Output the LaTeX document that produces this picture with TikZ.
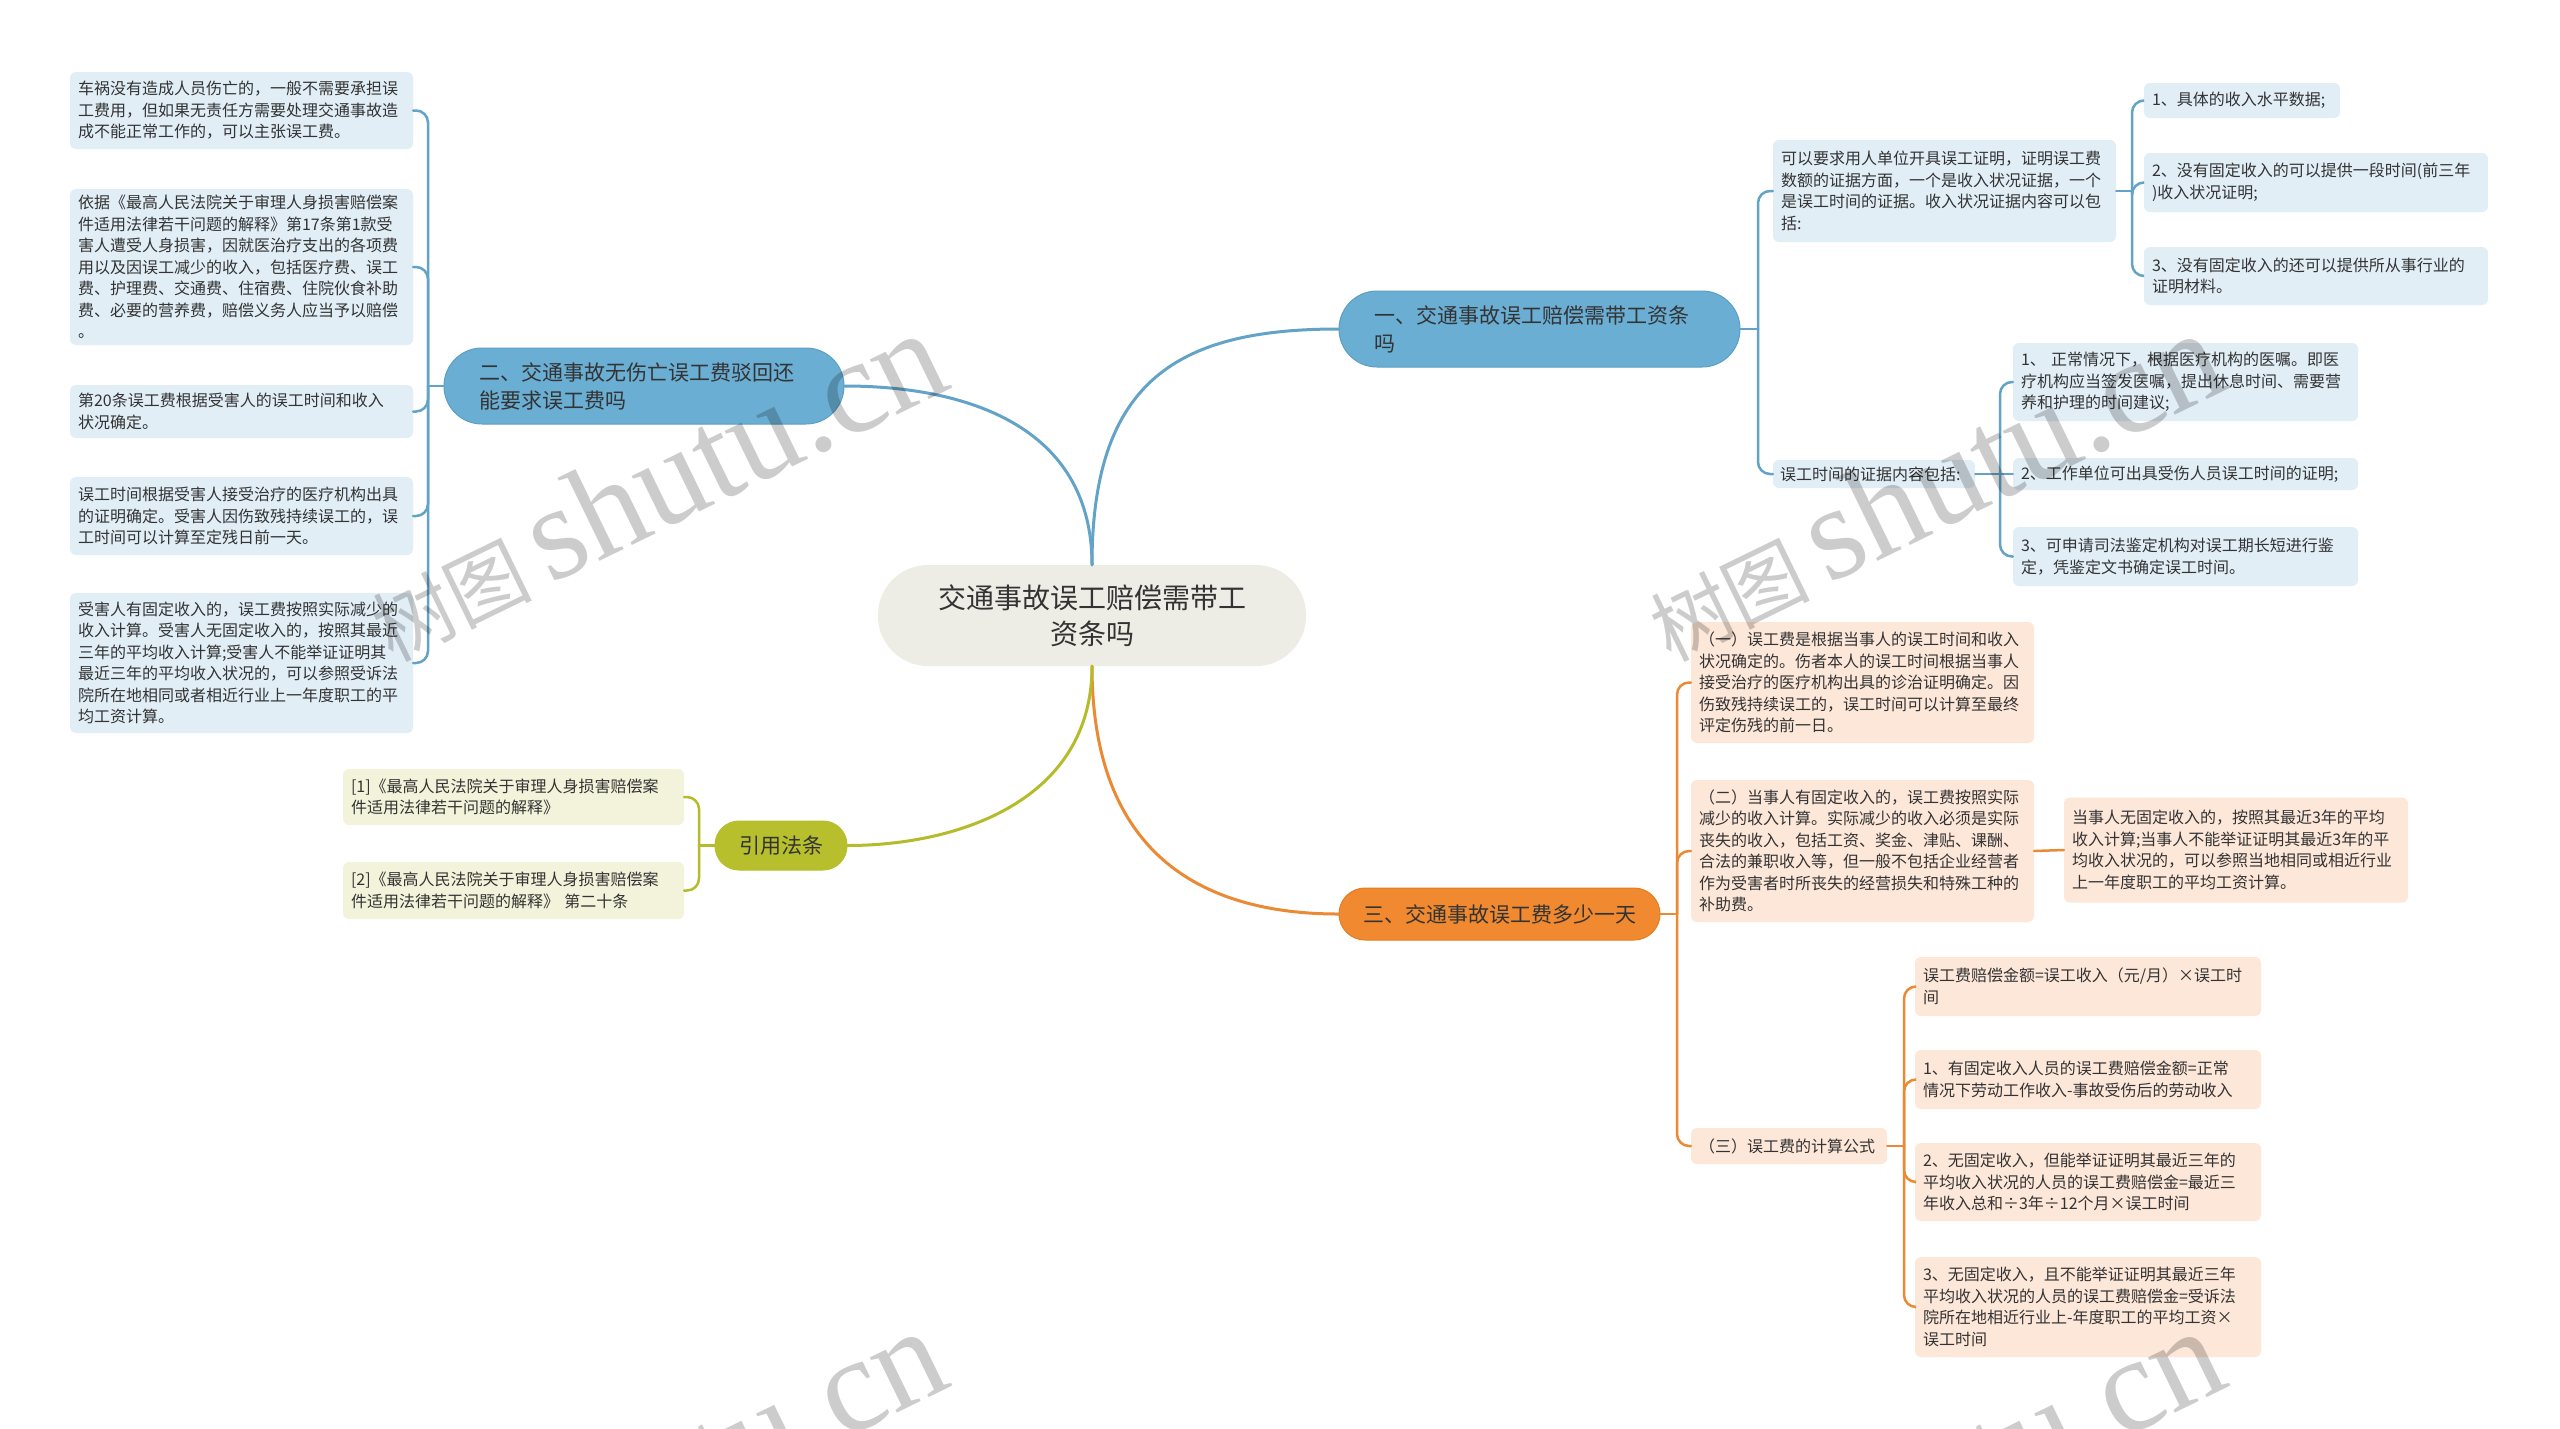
\documentclass[tikz,border=0pt]{standalone}
\usepackage{fontspec}
\setmainfont{Noto Sans CJK SC}
\newfontfamily\wmfont{Liberation Serif}
\definecolor{cText}{HTML}{333333}
\definecolor{cBL}{HTML}{62A3C7}
\definecolor{cBF}{HTML}{6AAED3}
\definecolor{cBE}{HTML}{5D9FC4}
\definecolor{cBLt}{HTML}{E1EEF6}
\definecolor{cOL}{HTML}{EA8A34}
\definecolor{cOF}{HTML}{F0892F}
\definecolor{cOE}{HTML}{E27E25}
\definecolor{cOLt}{HTML}{FDE7D9}
\definecolor{cVL}{HTML}{B4BC2C}
\definecolor{cVF}{HTML}{B7BF2C}
\definecolor{cVLt}{HTML}{F3F3DB}
\definecolor{cRoot}{HTML}{EEEDE5}
\begin{document}
\begin{tikzpicture}[x=1pt,y=-1pt,
  leaf/.style={rounded corners=6pt, inner xsep=8pt, inner ysep=0pt, align=left,
    font=\fontsize{16}{21.5}\selectfont, text=cText},
  pill/.style={inner sep=0pt, font=\fontsize{21}{28}\selectfont, text=cText, line width=1pt},
  mainc/.style={line width=3pt, line cap=round},
  subc/.style={line width=2.5pt, line cap=round},
  stemc/.style={line width=2.5pt, line cap=round, rounded corners=12pt},
  wm/.style={text=black, text opacity=0.2, inner sep=0pt, rotate=26},
]
\fill[white] (0,0) rectangle (2560,1428);
\useasboundingbox (0,0) rectangle (2560,1428);

% root
\node[fill=cRoot, rounded corners=50pt, minimum width=428pt, minimum height=101pt, inner sep=0pt,
  align=center, font=\fontsize{28}{36}\selectfont, text=cText] (root) at (1092,615.5)
  {交通事故误工赔偿需带工\\资条吗};

% main branches
\node[pill, fill=cBF, draw=cBE, rounded corners=38pt, minimum width=401pt, minimum height=76pt,
  text width=330pt, align=left] (b1) at (1539.5,329) {一、交通事故误工赔偿需带工资条\\吗};
\node[pill, fill=cBF, draw=cBE, rounded corners=38pt, minimum width=400pt, minimum height=76pt,
  text width=330pt, align=left] (b2) at (644,386) {二、交通事故无伤亡误工费驳回还\\能要求误工费吗};
\node[pill, fill=cOF, draw=cOE, rounded corners=26pt, minimum width=321pt, minimum height=52pt,
  align=center] (b3) at (1499.5,914) {三、交通事故误工费多少一天};
\node[pill, fill=cVF, draw=cVF, rounded corners=24pt, minimum width=132pt, minimum height=49pt,
  align=center] (b4) at (781,845.5) {引用法条};

% branch 2 leaves
\node[leaf, fill=cBLt, text width=327pt, minimum height=77pt] (c1) at (241.5,110.5)
  {车祸没有造成人员伤亡的，一般不需要承担误\\工费用，但如果无责任方需要处理交通事故造\\成不能正常工作的，可以主张误工费。};
\node[leaf, fill=cBLt, text width=327pt, minimum height=156pt] (c2) at (241.5,267)
  {依据《最高人民法院关于审理人身损害赔偿案\\件适用法律若干问题的解释》第17条第1款受\\害人遭受人身损害，因就医治疗支出的各项费\\用以及因误工减少的收入，包括医疗费、误工\\费、护理费、交通费、住宿费、住院伙食补助\\费、必要的营养费，赔偿义务人应当予以赔偿\\。};
\node[leaf, fill=cBLt, text width=327pt, minimum height=53pt] (c3) at (241.5,411.5)
  {第20条误工费根据受害人的误工时间和收入\\状况确定。};
\node[leaf, fill=cBLt, text width=327pt, minimum height=78pt] (c4) at (241.5,516)
  {误工时间根据受害人接受治疗的医疗机构出具\\的证明确定。受害人因伤致残持续误工的，误\\工时间可以计算至定残日前一天。};
\node[leaf, fill=cBLt, text width=327pt, minimum height=140pt] (c5) at (241.5,663)
  {受害人有固定收入的，误工费按照实际减少的\\收入计算。受害人无固定收入的，按照其最近\\三年的平均收入计算;受害人不能举证证明其\\最近三年的平均收入状况的，可以参照受诉法\\院所在地相同或者相近行业上一年度职工的平\\均工资计算。};

% branch 4 leaves
\node[leaf, fill=cVLt, text width=325pt, minimum height=56pt] (r1) at (513.5,797)
  {[1]《最高人民法院关于审理人身损害赔偿案\\件适用法律若干问题的解释》};
\node[leaf, fill=cVLt, text width=325pt, minimum height=57pt] (r2) at (513.5,890.5)
  {[2]《最高人民法院关于审理人身损害赔偿案\\件适用法律若干问题的解释》 第二十条};

% branch 1 leaves
\node[leaf, fill=cBLt, text width=327pt, minimum height=102pt] (n1a) at (1944.5,191)
  {可以要求用人单位开具误工证明，证明误工费\\数额的证据方面，一个是收入状况证据，一个\\是误工时间的证据。收入状况证据内容可以包\\括:};
\node[leaf, fill=cBLt, text width=188pt, minimum height=28pt, inner xsep=7pt] (n1b) at (1874,474)
  {误工时间的证据内容包括:};
\node[leaf, fill=cBLt, text width=180pt, minimum height=35pt] (a1) at (2242,100.5)
  {1、具体的收入水平数据;};
\node[leaf, fill=cBLt, text width=328pt, minimum height=59pt] (a2) at (2316,182.5)
  {2、没有固定收入的可以提供一段时间(前三年\\)收入状况证明;};
\node[leaf, fill=cBLt, text width=328pt, minimum height=58pt] (a3) at (2316,276)
  {3、没有固定收入的还可以提供所从事行业的\\证明材料。};
\node[leaf, fill=cBLt, text width=329pt, minimum height=78pt] (t1) at (2185.5,382)
  {1、 正常情况下，根据医疗机构的医嘱。即医\\疗机构应当签发医嘱，提出休息时间、需要营\\养和护理的时间建议;};
\node[leaf, fill=cBLt, text width=329pt, minimum height=32pt] (t2) at (2185.5,474)
  {2、工作单位可出具受伤人员误工时间的证明;};
\node[leaf, fill=cBLt, text width=329pt, minimum height=59pt] (t3) at (2185.5,556.5)
  {3、可申请司法鉴定机构对误工期长短进行鉴\\定，凭鉴定文书确定误工时间。};

% branch 3 leaves
\node[leaf, fill=cOLt, text width=327pt, minimum height=121pt] (o1) at (1862.5,682.5)
  {（一）误工费是根据当事人的误工时间和收入\\状况确定的。伤者本人的误工时间根据当事人\\接受治疗的医疗机构出具的诊治证明确定。因\\伤致残持续误工的，误工时间可以计算至最终\\评定伤残的前一日。};
\node[leaf, fill=cOLt, text width=327pt, minimum height=142pt] (o2) at (1862.5,851)
  {（二）当事人有固定收入的，误工费按照实际\\减少的收入计算。实际减少的收入必须是实际\\丧失的收入，包括工资、奖金、津贴、课酬、\\合法的兼职收入等，但一般不包括企业经营者\\作为受害者时所丧失的经营损失和特殊工种的\\补助费。};
\node[leaf, fill=cOLt, text width=328pt, minimum height=105pt] (o2c) at (2236,850)
  {当事人无固定收入的，按照其最近3年的平均\\收入计算;当事人不能举证证明其最近3年的平\\均收入状况的，可以参照当地相同或相近行业\\上一年度职工的平均工资计算。};
\node[leaf, fill=cOLt, text width=180pt, minimum height=36pt] (o3) at (1789,1146)
  {（三）误工费的计算公式};
\node[leaf, fill=cOLt, text width=330pt, minimum height=59pt] (f0) at (2088,986.5)
  {误工费赔偿金额=误工收入（元/月）×误工时\\间};
\node[leaf, fill=cOLt, text width=330pt, minimum height=59pt] (f1) at (2088,1079.5)
  {1、有固定收入人员的误工费赔偿金额=正常\\情况下劳动工作收入-事故受伤后的劳动收入};
\node[leaf, fill=cOLt, text width=330pt, minimum height=78pt] (f2) at (2088,1182)
  {2、无固定收入，但能举证证明其最近三年的\\平均收入状况的人员的误工费赔偿金=最近三\\年收入总和÷3年÷12个月×误工时间};
\node[leaf, fill=cOLt, text width=330pt, minimum height=100pt] (f3) at (2088,1307)
  {3、无固定收入，且不能举证证明其最近三年\\平均收入状况的人员的误工费赔偿金=受诉法\\院所在地相近行业上-年度职工的平均工资×\\误工时间};

% stems
\coordinate (s1) at (1758,329);
\coordinate (s1a) at (2132,191);
\coordinate (s1b) at (2000,474);
\coordinate (s2) at (428,386);
\coordinate (s3) at (1677,914);
\coordinate (s3c) at (1904,1146);
\coordinate (s4) at (699,845.5);

% main connectors
\draw[cBL, mainc] (root.north) .. controls +(0,-185) and +(-160,0) .. (b1.west);
\draw[cBL, mainc] (root.north) .. controls +(0,-140) and +(120,0) .. (b2.east);
\draw[cOL, mainc] (root.south) .. controls +(0,185) and +(-140,0) .. (b3.west);
\draw[cVL, mainc] (root.south) .. controls +(0,135) and +(110,0) .. (b4.east);

% branch 1
\draw[cBL, subc] (b1.east) -- (s1);
\foreach \n in {n1a,n1b} \draw[cBL, stemc] (s1) |- (\n.west);
\draw[cBL, subc] (n1a.east) -- (s1a);
\foreach \n in {a1,a2,a3} \draw[cBL, stemc] (s1a) |- (\n.west);
\draw[cBL, subc] (n1b.east) -- (s1b);
\foreach \n in {t1,t3} \draw[cBL, stemc] (s1b) |- (\n.west);
\draw[cBL, subc] (s1b) -- (t2.west);

% branch 2
\draw[cBL, subc] (b2.west) -- (s2);
\foreach \n in {c1,c2,c3,c4,c5} \draw[cBL, stemc] (s2) |- (\n.east);

% branch 4
\draw[cVL, subc] (b4.west) -- (s4);
\foreach \n in {r1,r2} \draw[cVL, stemc] (s4) |- (\n.east);

% branch 3
\draw[cOL, subc] (b3.east) -- (s3);
\foreach \n in {o1,o2,o3} \draw[cOL, stemc] (s3) |- (\n.west);
\draw[cOL, subc] (o2.east) -- (o2c.west);
\draw[cOL, subc] (o3.east) -- (s3c);
\foreach \n in {f0,f1,f2,f3} \draw[cOL, stemc] (s3c) |- (\n.west);

% watermarks
\foreach \dx/\dy in {0/0,1278/0,0/998,1278/998}{
  \node[wm, anchor=base west, font=\wmfont\fontsize{134}{134}\selectfont] at (550+\dx,585+\dy) {shutu.cn};
  \node[wm, anchor=base east, font=\fontsize{80}{80}\selectfont] at (536+\dx,592+\dy) {树图};
}
\end{tikzpicture}
\end{document}
